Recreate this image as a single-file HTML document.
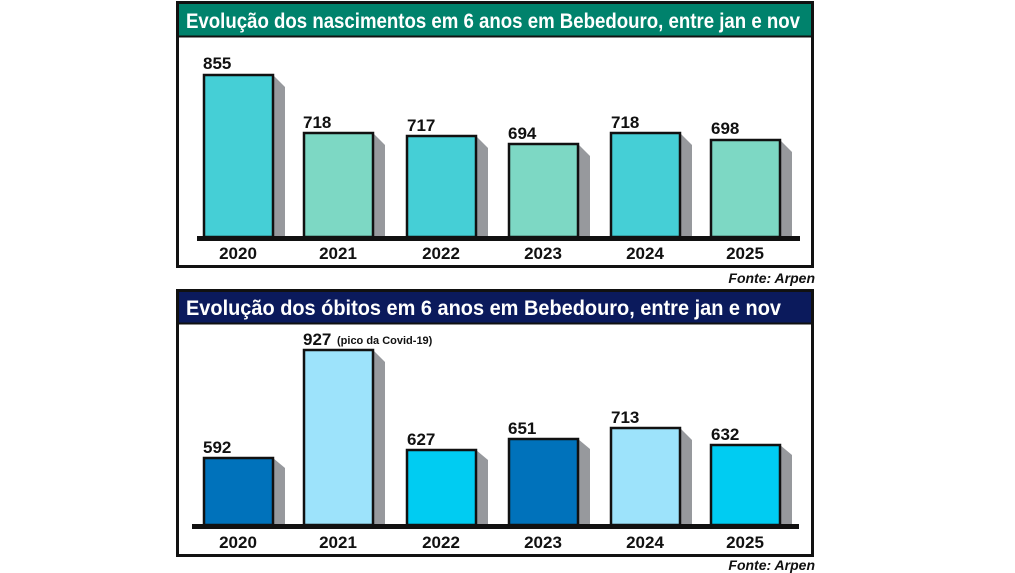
<!DOCTYPE html>
<html><head><meta charset="utf-8"><style>
html,body{margin:0;padding:0;background:#fff;width:1015px;height:573px;overflow:hidden}
svg{display:block}
text{font-family:"Liberation Sans",sans-serif;font-weight:bold}
</style></head><body>
<svg width="1015" height="573" viewBox="0 0 1015 573" xmlns="http://www.w3.org/2000/svg">
<!-- TOP PANEL -->
<rect x="177.5" y="2.5" width="635" height="264" fill="#fff" stroke="#111" stroke-width="3"/>
<rect x="179" y="4" width="632" height="32" fill="#00826c"/>
<line x1="179" y1="36.5" x2="811" y2="36.5" stroke="#111" stroke-width="2"/>
<text x="186" y="28" fill="#fff" font-size="21" textLength="614" lengthAdjust="spacingAndGlyphs">Evolução dos nascimentos em 6 anos em Bebedouro, entre jan e nov</text>
<g stroke="none" fill="#97999d">
<polygon points="273,75 285,87 285,236 273,236"/>
<polygon points="373,133 385,145 385,236 373,236"/>
<polygon points="476,136 488,148 488,236 476,236"/>
<polygon points="578,144 590,156 590,236 578,236"/>
<polygon points="680,133 692,145 692,236 680,236"/>
<polygon points="780,140 792,152 792,236 780,236"/>
</g>
<g stroke="#111" stroke-width="2.5">
<rect x="204" y="75" width="69" height="162" fill="#45cfd6"/>
<rect x="304" y="133" width="69" height="104" fill="#7dd8c4"/>
<rect x="407" y="136" width="69" height="101" fill="#45cfd6"/>
<rect x="509" y="144" width="69" height="93" fill="#7dd8c4"/>
<rect x="611" y="133" width="69" height="104" fill="#45cfd6"/>
<rect x="711" y="140" width="69" height="97" fill="#7dd8c4"/>
</g>
<rect x="197" y="236" width="603" height="5" fill="#111"/>
<g font-size="17" fill="#111">
<text x="203" y="69">855</text>
<text x="303" y="128">718</text>
<text x="407" y="131">717</text>
<text x="508" y="139">694</text>
<text x="611" y="128">718</text>
<text x="711" y="134">698</text>
</g>
<g font-size="17" fill="#111" text-anchor="middle">
<text x="238" y="259">2020</text>
<text x="338" y="259">2021</text>
<text x="441" y="259">2022</text>
<text x="543" y="259">2023</text>
<text x="645" y="259">2024</text>
<text x="745" y="259">2025</text>
</g>
<text x="815" y="283" font-size="14" font-style="italic" text-anchor="end" fill="#111">Fonte: Arpen</text>

<!-- BOTTOM PANEL -->
<rect x="177.5" y="290.5" width="635" height="265" fill="#fff" stroke="#111" stroke-width="3"/>
<rect x="179" y="292" width="632" height="31" fill="#0b1a5c"/>
<line x1="179" y1="323.5" x2="811" y2="323.5" stroke="#111" stroke-width="2"/>
<text x="186" y="315" fill="#fff" font-size="21" textLength="595" lengthAdjust="spacingAndGlyphs">Evolução dos óbitos em 6 anos em Bebedouro, entre jan e nov</text>
<g fill="#97999d">
<polygon points="273,458 285,468 285,524 273,524"/>
<polygon points="373,350 385,362 385,524 373,524"/>
<polygon points="476,450 488,460 488,524 476,524"/>
<polygon points="578,439 590,449 590,524 578,524"/>
<polygon points="680,428 692,440 692,524 680,524"/>
<polygon points="780,445 792,455 792,524 780,524"/>
</g>
<g stroke="#111" stroke-width="2.5">
<rect x="204" y="458" width="69" height="67" fill="#0072bb"/>
<rect x="304" y="350" width="69" height="175" fill="#9de3fb"/>
<rect x="407" y="450" width="69" height="75" fill="#00ccf2"/>
<rect x="509" y="439" width="69" height="86" fill="#0072bb"/>
<rect x="611" y="428" width="69" height="97" fill="#9de3fb"/>
<rect x="711" y="445" width="69" height="80" fill="#00ccf2"/>
</g>
<rect x="192" y="524" width="607" height="5" fill="#111"/>
<g font-size="17" fill="#111">
<text x="203" y="453">592</text>
<text x="303" y="345">927</text>
<text x="337" y="344" font-size="11">(pico da Covid-19)</text>
<text x="407" y="445">627</text>
<text x="508" y="434">651</text>
<text x="611" y="423">713</text>
<text x="711" y="440">632</text>
</g>
<g font-size="17" fill="#111" text-anchor="middle">
<text x="238" y="548">2020</text>
<text x="338" y="548">2021</text>
<text x="441" y="548">2022</text>
<text x="543" y="548">2023</text>
<text x="645" y="548">2024</text>
<text x="745" y="548">2025</text>
</g>
<text x="815" y="570" font-size="14" font-style="italic" text-anchor="end" fill="#111">Fonte: Arpen</text>
</svg>
</body></html>
